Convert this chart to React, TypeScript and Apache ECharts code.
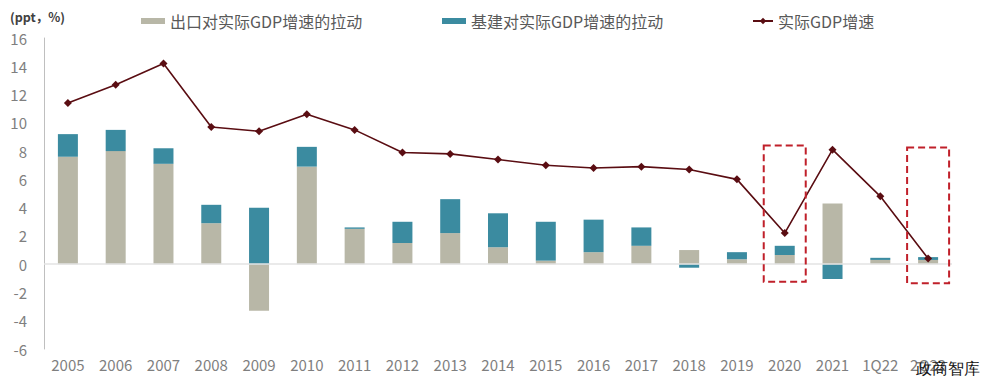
import React, { useEffect, useRef } from "react";
import * as echarts from "echarts";

const categories = ["2005","2006","2007","2008","2009","2010","2011","2012","2013","2014","2015","2016","2017","2018","2019","2020","2021","1Q22","2Q22"];
const exportPull = [7.6, 8.0, 7.1, 2.9, -3.3, 6.9, 2.5, 1.5, 2.2, 1.2, 0.25, 0.85, 1.3, 1.0, 0.35, 0.65, 4.3, 0.3, 0.3];
const infraPull = [1.6, 1.5, 1.1, 1.3, 4.0, 1.4, 0.1, 1.5, 2.4, 2.4, 2.75, 2.3, 1.3, -0.25, 0.5, 0.65, -1.05, 0.15, 0.2];
const realGdp = [11.4, 12.7, 14.2, 9.7, 9.4, 10.6, 9.5, 7.9, 7.8, 7.4, 7.0, 6.8, 6.9, 6.7, 6.0, 2.2, 8.1, 4.8, 0.4];
const seriesNames = ["出口对实际GDP增速的拉动", "基建对实际GDP增速的拉动", "实际GDP增速"];
const highlightCats = ["2020", "2Q22"];
const highlightTop = [8.4, 8.25];
const highlightBottom = [-1.25, -1.35];
const unitLabel = "(ppt，%)";
const watermark = "政商智库";

const FONT = "'Noto Sans CJK SC', 'Noto Sans', sans-serif";

export default function App() {
  const ref = useRef<HTMLDivElement>(null);
  useEffect(() => {
    document.body.style.margin = "0";
    if (!ref.current) return;
    const chart = echarts.init(ref.current, null, { renderer: "svg" });
    const legendText = { color: "#595959", fontSize: 16, fontFamily: FONT };
    chart.setOption({
      animation: false,
      textStyle: { fontFamily: FONT },
      grid: { left: 44, right: 29, top: 38, bottom: 28, containLabel: false },
      legend: [
        { data: [{ name: seriesNames[0], icon: "rect" }], left: 136, top: 8, itemWidth: 24, itemHeight: 6, textStyle: legendText },
        { data: [{ name: seriesNames[1], icon: "rect" }], left: 437, top: 8, itemWidth: 24, itemHeight: 6, textStyle: legendText },
        { data: [seriesNames[2]], left: 747, top: 8, itemWidth: 20, itemHeight: 8, textStyle: legendText },
      ],
      xAxis: {
        type: "category",
        data: categories,
        axisLine: { show: false, onZero: false },
        axisTick: { show: false },
        axisLabel: { color: "#7f7f7f", fontSize: 15, margin: 8, interval: 0 },
      },
      yAxis: {
        type: "value",
        min: -6,
        max: 16,
        interval: 2,
        axisLine: { show: true, lineStyle: { color: "#bfbfbf", width: 1 } },
        axisTick: { show: false },
        splitLine: { show: false },
        axisLabel: { color: "#7f7f7f", fontSize: 15, margin: 17 },
      },
      series: [
        {
          name: seriesNames[0],
          type: "bar",
          stack: "pull",
          data: exportPull,
          barWidth: 20,
          itemStyle: { color: "#b8b7a7" },
          markLine: {
            silent: true,
            symbol: "none",
            label: { show: false },
            lineStyle: { color: "#e3e3e3", type: "solid", width: 1.5 },
            data: [{ yAxis: 0 }],
          },
        },
        {
          name: seriesNames[1],
          type: "bar",
          stack: "pull",
          data: infraPull,
          barWidth: 20,
          itemStyle: { color: "#3b8ba0" },
        },
        {
          name: seriesNames[2],
          type: "line",
          data: realGdp,
          symbol: "diamond",
          symbolSize: 8,
          itemStyle: { color: "#5a0d12" },
          lineStyle: { color: "#5a0d12", width: 1.6 },
          z: 5,
        },
      ],
    });
    const boxes: any[] = highlightCats.map((c, i) => {
      const p1 = chart.convertToPixel({ gridIndex: 0 }, [c, highlightTop[i]]) as number[];
      const p2 = chart.convertToPixel({ gridIndex: 0 }, [c, highlightBottom[i]]) as number[];
      const half = 21;
      return {
        type: "rect",
        shape: { x: p1[0] - half, y: p1[1], width: half * 2, height: p2[1] - p1[1] },
        style: { fill: "none", stroke: "#c0202a", lineWidth: 2, lineDash: [7, 4] },
        z: 10,
      };
    });
    chart.setOption({
      graphic: [
        ...boxes,
        {
          type: "text",
          left: 10,
          top: 10,
          style: { text: unitLabel, fill: "#404040", fontSize: 12.5, fontWeight: "bold", fontFamily: FONT },
        },
        {
          type: "text",
          right: 1,
          bottom: 1,
          z: 20,
          style: { text: watermark, fill: "#111111", fontSize: 16, fontFamily: "serif" },
        },
      ],
    });
    return () => chart.dispose();
  }, []);
  return <div ref={ref} style={{ width: 981, height: 377 }} />;
}
